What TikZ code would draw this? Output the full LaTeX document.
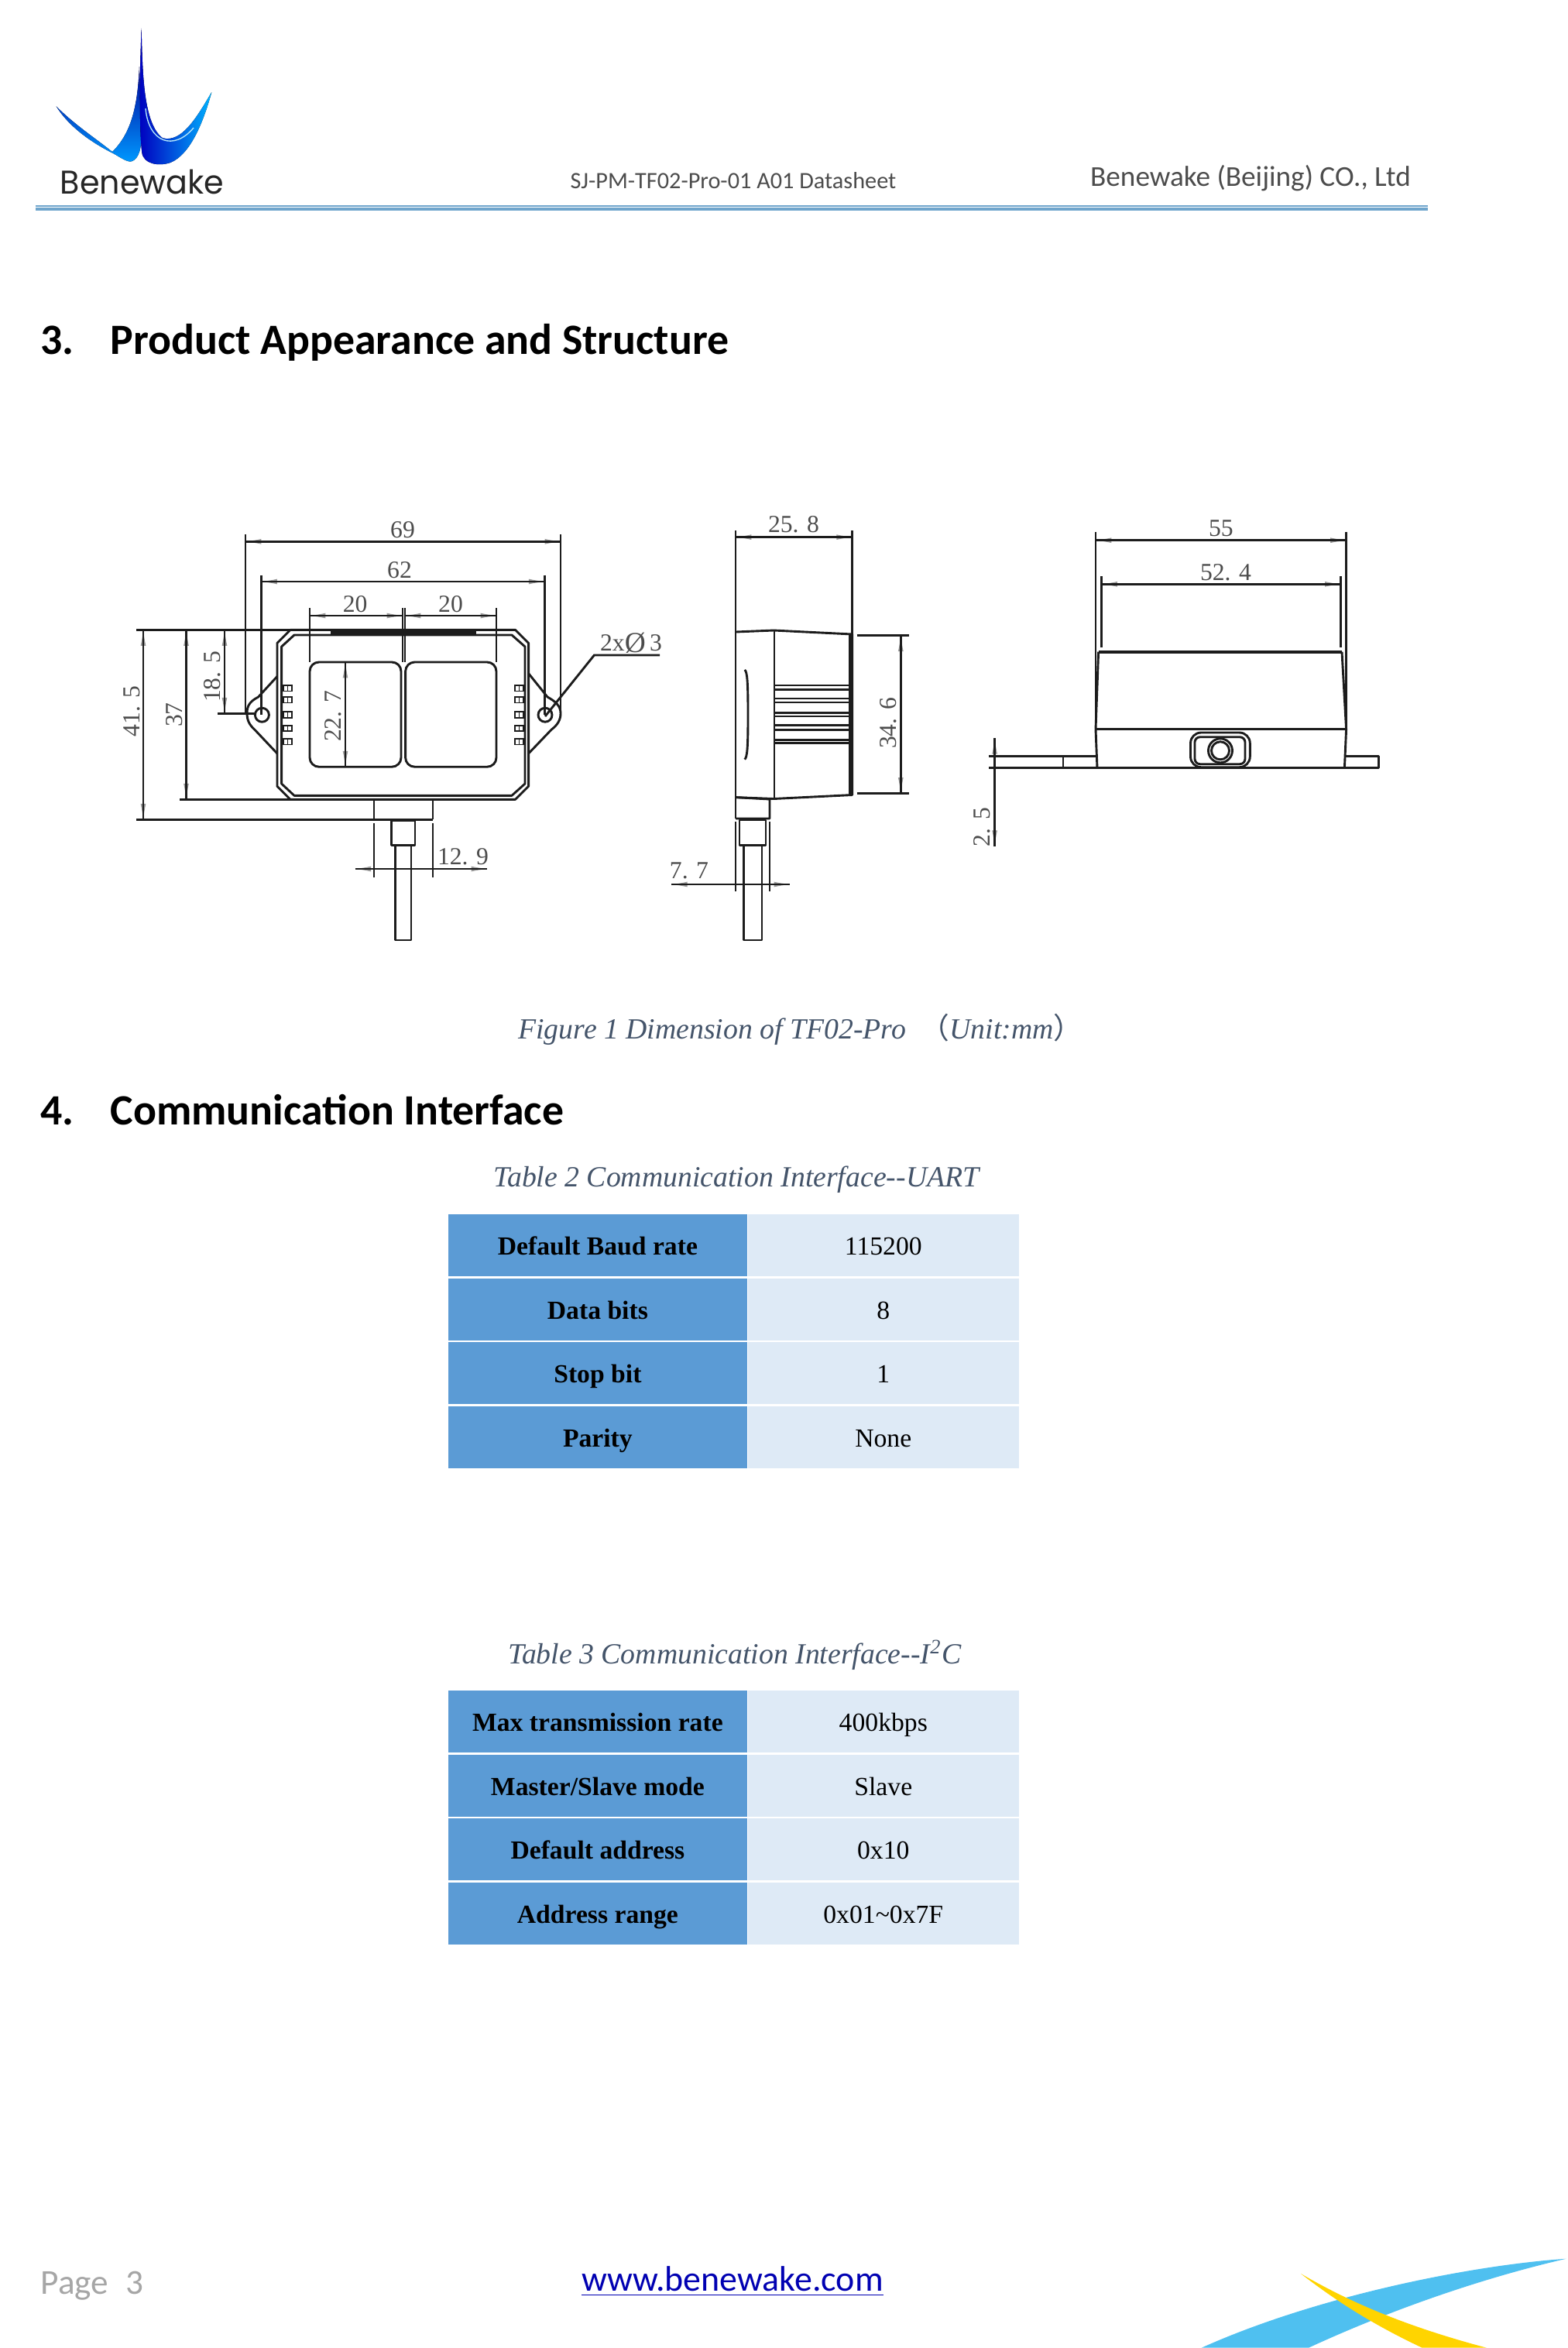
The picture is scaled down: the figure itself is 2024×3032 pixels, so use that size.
\documentclass[tikz,border=0pt]{standalone}
\usepackage{fontspec}
\setmainfont{Liberation Serif}
\newfontfamily\calibri{Carlito}
\newfontfamily\logofont{Poppins}
\newfontfamily\cjk{Noto Sans CJK SC}
\usetikzlibrary{arrows.meta}
\definecolor{headblue}{HTML}{5B9BD5}
\definecolor{valblue}{HTML}{DEEAF6}
\definecolor{rulblue}{HTML}{6FA5CC}
\definecolor{captgray}{HTML}{44546A}
\definecolor{inkgray}{HTML}{1C1C1C}
\definecolor{swblue}{HTML}{4FC0F0}
\definecolor{swyellow}{HTML}{FFD400}
\tikzset{
  part/.style={draw=inkgray,line width=0.85pt,line join=round},
  thin part/.style={draw=inkgray,line width=0.55pt},
  dimline/.style={draw=inkgray,line width=0.85pt},
  dimarrow/.style={dimline,preaction={draw=black!40,line width=0.3pt,{Latex[length=6pt,width=2pt]}-{Latex[length=6pt,width=2pt]}}},
  dimtext/.style={font=\fontsize{9.3}{11}\selectfont,text=black!70,inner sep=0pt},
  headcell/.style={fill=headblue,minimum width=113.4pt,minimum height=23.6pt,inner sep=0pt,text height=8.2pt,text depth=0.8pt,font=\fontsize{9.9}{12}\selectfont\bfseries},
  valcell/.style={fill=valblue,minimum width=102.9pt,minimum height=23.6pt,inner sep=0pt,text height=8.2pt,text depth=0.8pt,font=\fontsize{9.9}{12}\selectfont},
  capt/.style={font=\fontsize{11.1}{13}\selectfont\itshape,text=captgray,inner sep=0pt},
  sect/.style={font=\calibri\bfseries\fontsize{16.4}{19}\selectfont,inner sep=0pt,anchor=base west},
}
\begin{document}
\begin{tikzpicture}[x=0.294pt,y=-0.294pt]
\useasboundingbox (0,0) rectangle (2024,3032);

% logo
\fill[top color=blue!60!black,bottom color=cyan!60!blue] (180,86) .. controls (178,130) and (172,170) .. (145,196) .. controls (125,180) and (95,160) .. (72.7,137.3) .. controls (90,165) and (120,185) .. (146.7,198.3) .. controls (155,203) and (165,210) .. (170,208.3) .. controls (180,205) and (183,190) .. (182.7,170) -- cycle;
\fill[left color=blue!75!black,right color=cyan!70!blue] (182.7,36.7) .. controls (184,100) and (186,160) .. (210,178.3) .. controls (235,185) and (255,150) .. (273.3,119) .. controls (262,160) and (245,200) .. (220,210) .. controls (205,215) and (185,212) .. (183.3,196.7) .. controls (180,170) and (180,100) .. (182.7,36.7) -- cycle;
\draw[white!70!cyan,line width=0.4pt] (188,140) .. controls (192,185) and (225,195) .. (250,165);
\node[font=\logofont\fontsize{12.5}{14}\selectfont,text=black!85,xscale=0.97,inner sep=0pt,anchor=base] (brand) at (183.5,250) {Benewake};

% header
\node[font=\calibri\fontsize{8.9}{11}\selectfont,text=black!70,inner sep=0pt,anchor=base] (docid) at (947,243) {SJ-PM-TF02-Pro-01 A01 Datasheet};
\node[font=\calibri\fontsize{10.95}{13}\selectfont,text=black!70,inner sep=0pt,anchor=base] (company) at (1615,240.7) {Benewake (Beijing) CO., Ltd};
\draw[rulblue,line width=0.6pt] (46,265.7) -- (1844,265.7);
\draw[rulblue,line width=0.9pt] (46,270) -- (1844,270);

% sections
\node[sect] (s3n) at (52,457) {3.};
\node[sect] (s3) at (142,457) {Product Appearance and Structure};
\node[sect] (s4n) at (52,1452) {4.};
\node[sect] (s4) at (142,1452) {Communication Interface};

% front view, body
\draw[part] (375,813.4) -- (665.6,813.4) -- (682.6,830.4) -- (682.6,1015.3) -- (665.6,1032.3) -- (375,1032.3) -- (358,1015.3) -- (358,830.4) -- cycle;
\draw[part] (380,820) -- (661,820) -- (678,835) -- (678,1012) -- (661,1027.3) -- (380,1027.3) -- (363.6,1012) -- (363.6,835) -- cycle;
\draw[part,line width=1.6pt] (427,818) -- (615,818);
\draw[part,rounded corners=3.5pt] (400,855) rectangle (518,990.2);
\draw[part,rounded corners=3.5pt] (523.6,855) rectangle (641,990.2);
% lugs and holes
\draw[part] (358,873.4) -- (333.6,900) .. controls (322,906) and (319,912) .. (319,921) .. controls (319,930) and (322,936) .. (329,942.3) -- (358,973);
\draw[part] (682.6,869.6) -- (707,900) .. controls (718,906) and (724,912) .. (724,921) .. controls (724,930) and (720,936) .. (712,942.3) -- (682.6,973);
\draw[part] (338.4,923.2) circle[radius=9];
\draw[part] (704,923.2) circle[radius=9];
\foreach \py in {885,900,919.4,936.6,954}{
  \draw[thin part] (366,\py) rectangle (377,\py+7.5);
  \draw[thin part] (371.5,\py) -- (371.5,\py+7.5);
  \draw[thin part] (665,\py) rectangle (676,\py+7.5);
  \draw[thin part] (670.5,\py) -- (670.5,\py+7.5);
}
% cable, front
\draw[part] (483,1032.3) -- (483,1058.3) (559,1032.3) -- (559,1058.3);
\draw[part] (505.7,1060) rectangle (536,1091.6);
\draw[part] (510.5,1091.6) rectangle (531,1214);

% front view, dimensions
\draw[dimline] (317,689.8) -- (317,921);
\draw[dimline] (724,689.8) -- (724,921);
\draw[dimarrow] (317,699.3) -- (724,699.3);
\node[dimtext] (d69) at (520,684) {69};
\draw[dimline] (337.5,742.6) -- (337.5,923);
\draw[dimline] (703.4,742.6) -- (703.4,923);
\draw[dimarrow] (337.5,751) -- (703.4,751);
\node[dimtext] (d62) at (516,735.7) {62};
\draw[dimline] (400,785.4) -- (400,855);
\draw[dimline] (641,785.4) -- (641,855);
\draw[dimline] (520,785.4) -- (520,855);
\draw[dimline] (523,785.4) -- (523,855);
\draw[dimarrow] (400,795) -- (520,795);
\draw[dimarrow] (523,795) -- (641,795);
\node[dimtext] (d20a) at (458.6,780.4) {20};
\node[dimtext] (d20b) at (582,780.4) {20};
\draw[dimline] (176,813.4) -- (375,813.4);
\draw[dimline] (176,1058.3) -- (559,1058.3);
\draw[dimline] (232,1032.3) -- (375,1032.3);
\draw[dimline] (281,921.3) -- (331,921.3);
\draw[dimarrow] (185,813.4) -- (185,1058.3);
\draw[dimarrow] (240.5,813.4) -- (240.5,1032.3);
\draw[dimarrow] (290,813.4) -- (290,921.3);
\draw[dimarrow] (446,855) -- (446,990.2);
\node[dimtext,rotate=90] (d415) at (170,918.6) {41. 5};
\node[dimtext,rotate=90] (d37) at (225,923) {37};
\node[dimtext,rotate=90] (d185) at (274.4,874) {18. 5};
\node[dimtext,rotate=90] (d227) at (430,925) {22. 7};
\draw[dimline] (704,925) -- (767.4,846) -- (852,846);
\node[dimtext] (dhole) at (815,830) {2x\raisebox{-0.5pt}{\fontsize{11}{11}\selectfont\symbol{"00D8}}\,3};
\draw[dimline] (483,1063) -- (483,1133);
\draw[dimline] (559,1063) -- (559,1133);
\draw[dimarrow] (458.6,1122) -- (629,1122);
\node[dimtext] (d129) at (598,1106) {12. 9};

% side view
\draw[part] (950,816) -- (999.3,814) -- (1100.7,819) -- (1100.7,1026.5) -- (999.3,1031.5) -- (950,1029.6);
\draw[part] (1000,814) -- (1000,1031.5);
\draw[part,line width=1.4pt] (1098,819) -- (1098,1026.5);
\draw[part] (961.7,865) .. controls (965,867) and (966,880) .. (966,923) .. controls (966,966) and (965,978) .. (961.7,980.6);
\foreach \py/\qy in {885/890.7,902/907,920.5/925,936.6/942.3,955.7/959.5}{
  \draw[part] (1000,\py) -- (1097,\py);
  \draw[part] (1000,\qy) -- (1097,\qy);
}
\draw[part] (950,1029.6) -- (994,1032) -- (994,1057) -- (950,1057);
\draw[part] (955,1059) rectangle (989,1091.6);
\draw[part] (960.7,1091.6) rectangle (984,1214);
% side view, dimensions
\draw[dimline] (950,685) -- (950,1057);
\draw[dimline] (1100.7,685) -- (1100.7,1026.5);
\draw[dimarrow] (950,693.6) -- (1100.7,693.6);
\node[dimtext] (d258) at (1025,677) {25. 8};
\draw[dimline] (1106.7,820.6) -- (1174,820.6);
\draw[dimline] (1106.7,1024.6) -- (1174,1024.6);
\draw[dimarrow] (1163.3,820.6) -- (1163.3,1024.6);
\node[dimtext,rotate=90] (d346) at (1147,934) {34. 6};
\draw[dimline] (950,1061) -- (950,1151);
\draw[dimline] (994,1061) -- (994,1151);
\draw[dimarrow] (867.3,1142) -- (1020,1142);
\node[dimtext] (d77) at (890,1124) {7. 7};

% top view
\draw[part,line width=1.3pt] (1418.6,841.7) -- (1733,841.7);
\draw[part] (1418.6,841.7) -- (1415,941.7);
\draw[part] (1733,841.7) -- (1738.6,941.7);
\draw[part] (1415,941.7) -- (1738.6,941.7);
\draw[part] (1415,941.7) -- (1417,991.7);
\draw[part] (1738.6,941.7) -- (1736.4,991.7);
\draw[part] (1276.8,991.7) -- (1780.4,991.7) -- (1780.4,976.7) -- (1737,976.7);
\draw[part] (1276.8,976.7) -- (1416,976.7);
\draw[part] (1373,976.7) -- (1373,991.7);
\draw[part,rounded corners=4pt] (1537.5,946) rectangle (1614.3,990.7);
\draw[part,rounded corners=2pt] (1543,951.7) rectangle (1608,986.7);
\draw[part] (1576,969.3) circle[radius=15.5];
\draw[part] (1576,969.3) circle[radius=11.5];
% top view, dimensions
\draw[dimline] (1415,686.7) -- (1415,941.7);
\draw[dimline] (1738.6,686.7) -- (1738.6,941.7);
\draw[dimarrow] (1415,697.7) -- (1738.6,697.7);
\node[dimtext] (d55) at (1576.8,682) {55};
\draw[dimline] (1422.5,744) -- (1422.5,836);
\draw[dimline] (1731.4,744) -- (1731.4,836);
\draw[dimarrow] (1422.5,754.3) -- (1731.4,754.3);
\node[dimtext] (d524) at (1583,739.3) {52. 4};
\draw[dimarrow] (1284.6,953.3) -- (1284.6,1092.7);
\node[dimtext,rotate=90] (d25) at (1268,1068) {2. 5};

% captions
\node[capt] (fig1) at (1034,1329) {Figure 1 Dimension of TF02-Pro\hspace{0.5em}{\cjk（}Unit:mm{\cjk）}};
\node[capt] (tab2) at (951,1523) {Table 2 Communication Interface-{}-UART};
\node[capt] (tab3) at (949,2137) {Table 3 Communication Interface-{}-I\textsuperscript{2}C};

% tables
\foreach \ry/\ra/\rb [count=\ri] in {1608/Default Baud rate/115200,1690.7/Data bits/8,1773/Stop bit/1,1855.7/Parity/None}{
  \node[headcell] (ua\ri) at (771.9,\ry) {\ra};
  \node[valcell] (ub\ri) at (1140.8,\ry) {\rb};
}
\foreach \ry/\ra/\rb [count=\ri] in {2223/Max transmission rate/400kbps,2305.7/Master\slash Slave mode/Slave,2388/Default address/0x10,2470.7/Address range/0x01\textasciitilde0x7F}{
  \node[headcell] (ia\ri) at (771.9,\ry) {\ra};
  \node[valcell] (ib\ri) at (1140.8,\ry) {\rb};
}

% footer
\node[font=\calibri\fontsize{13.3}{15}\selectfont,text=black!35,inner sep=0pt,anchor=west] (page) at (52,2952) {Page\hspace{0.5em}3};
\node[font=\calibri\fontsize{13.5}{16}\selectfont,text=blue!70!black,inner sep=0pt] (web) at (946,2946) {\underline{www.benewake.com}};
\fill[swblue] (2022.7,2916.7) .. controls (1900,2925) and (1700,2965) .. (1551.7,3031.7) -- (1690,3031.7) .. controls (1780,2990) and (1900,2945) .. cycle;
\fill[swyellow] (1680,2936) .. controls (1730,2965) and (1800,3000) .. (1920,3031.7) -- (1836.7,3031.7) .. controls (1780,3005) and (1730,2975) .. cycle;
\end{tikzpicture}
\end{document}
